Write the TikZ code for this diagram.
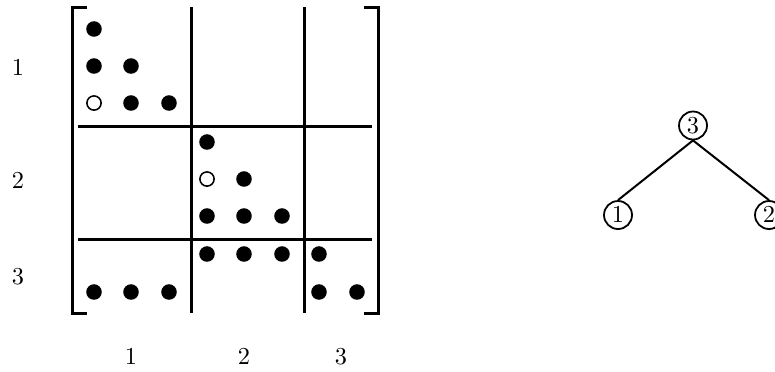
\documentclass[tikz,border=0pt]{standalone}
\usepackage{tikz}
\usetikzlibrary{positioning}

\begin{document}
\begin{tikzpicture}[
  x=0.45pt, y=-0.45pt,
  every node/.style={font=\fontsize{11}{13}\selectfont},
  dot/.style={circle, fill=black, minimum size=7pt, inner sep=0},
  hole/.style={circle, draw=black, line width=0.7pt, fill=white, minimum size=6.4pt, inner sep=0},
  rule/.style={line width=1.35pt},
  brak/.style={line width=1.35pt},
  lbl/.style={inner sep=0},
  tnode/.style={circle, draw, line width=0.8pt, minimum size=12.6pt, inner sep=0},
  tedge/.style={line width=0.9pt},
]
\useasboundingbox (0,0) rectangle (775,371);

%% ── block matrix ─────────────────────────────────────────────────────────
\draw[brak] (87,7) -- (72.5,7) -- (72.5,313) -- (87,313);
\draw[brak] (364,7) -- (378.5,7) -- (378.5,313) -- (364,313);

\foreach \x in {191,304} { \draw[rule] (\x,7) -- (\x,313); }
\foreach \y in {126,239} { \draw[rule] (78,\y) -- (372,\y); }

%% filled entries
\foreach \x/\y/\n in {94/29/a1, 94/66/a2, 131/66/a3, 131/103/a4, 169/103/a5,
                      207/142/b1, 244/179/b2, 207/216/b3, 244/216/b4, 282/216/b5,
                      207/254/c1, 244/254/c2, 282/254/c3, 319/254/c4,
                      94/292/c5, 131/292/c6, 169/292/c7, 319/292/c8, 357/292/c9} {
  \node[dot] (\n) at (\x,\y) {};
}
%% fill-in entries
\node[hole] (f1) at (94,103) {};
\node[hole] (f2) at (207,179) {};

%% block indices
\foreach \y/\t in {68/1, 181/2, 277/3} { \node[lbl] (r\t) at (18,\y) {$\t$}; }
\foreach \x/\t in {131/1, 244/2, 341/3} { \node[lbl] (k\t) at (\x,357) {$\t$}; }

%% ── elimination tree ─────────────────────────────────────────────────────
\node[tnode] (t3) at (693,125.5) {$3$};
\node[tnode] (t1) at (618,215) {$1$};
\node[tnode] (t2) at (769,215) {$2$};
\draw[tedge] (t3.south) -- (t1.north);
\draw[tedge] (t3.south) -- (t2.north);

\end{tikzpicture}
\end{document}
